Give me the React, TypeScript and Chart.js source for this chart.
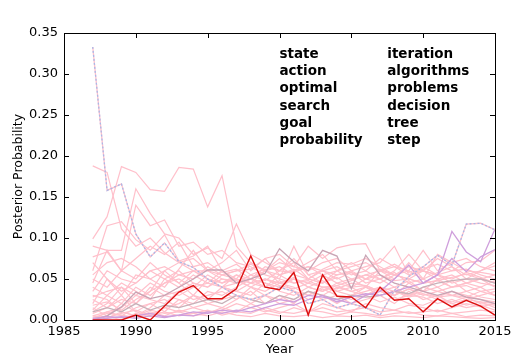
import React, { useEffect, useRef } from "react";
import { Chart, registerables } from "chart.js";

Chart.register(...registerables);

const years = [1987,1988,1989,1990,1991,1992,1993,1994,1995,1996,1997,1998,1999,2000,2001,2002,2003,2004,2005,2006,2007,2008,2009,2010,2011,2012,2013,2014,2015];

const xTicks = [1985, 1990, 1995, 2000, 2005, 2010, 2015];
const yTicks = [0, 0.05, 0.1, 0.15, 0.2, 0.25, 0.3, 0.35];

const wordsLeft = ["state", "action", "optimal", "search", "goal", "probability"];
const wordsRight = ["iteration", "algorithms", "problems", "decision", "tree", "step"];

const redTopic = [0,0,0,.006,0,.017,.034,.042,.026,.026,.038,.078,.040,.037,.058,.006,.055,.029,.028,.015,.040,.024,.026,.010,.026,.016,.024,.017,.006];
const blueTopic = [.333,.158,.166,.105,.077,.094,.071,.064,.050,.040,.030,.025,.030,.040,.035,.020,.025,.015,.020,.015,.006,.036,.053,.065,.079,.067,.117,.118,.110];
const purpleA = [.002,.004,.003,.005,.008,.004,.006,.010,.008,.012,.010,.015,.020,.025,.022,.030,.028,.025,.020,.030,.035,.050,.067,.045,.055,.108,.083,.071,.111];
const purpleB = [0,.002,.004,.002,.005,.003,.006,.005,.010,.008,.012,.010,.015,.020,.018,.025,.030,.022,.028,.032,.030,.035,.040,.045,.055,.075,.059,.077,.086];
const mauveA = [0,.005,.016,.034,.026,.030,.040,.050,.061,.061,.045,.050,.057,.087,.071,.060,.085,.078,.038,.079,.055,.045,.040,.035,.030,.035,.028,.025,.020];
const mauveB = [.010,.015,.010,.020,.012,.018,.015,.020,.025,.020,.030,.025,.020,.030,.025,.035,.030,.025,.030,.028,.030,.035,.032,.040,.045,.048,.050,.050,.045];

const pinkSeries = [
  [.188,.180,.111,.090,.100,.082,.070,.075,.060,.055,.050,.045,.040,.048,.035,.030,.038,.030,.025,.030,.022,.028,.020,.018,.025,.020,.015,.018,.012],
  [.099,.126,.187,.180,.159,.157,.186,.184,.138,.176,.090,.070,.060,.055,.062,.050,.045,.052,.040,.042,.035,.040,.030,.035,.028,.030,.025,.022,.020],
  [.090,.085,.085,.160,.130,.105,.100,.080,.088,.075,.117,.080,.070,.060,.075,.055,.060,.050,.058,.045,.050,.040,.048,.035,.040,.030,.035,.028,.025],
  [.077,.083,.060,.140,.115,.122,.090,.095,.080,.085,.070,.065,.055,.050,.045,.048,.040,.042,.035,.040,.030,.035,.028,.032,.025,.022,.028,.020,.018],
  [.060,.115,.120,.098,.085,.104,.072,.078,.090,.060,.068,.055,.062,.045,.050,.040,.048,.035,.040,.030,.038,.025,.030,.028,.020,.025,.018,.022,.015],
  [.045,.085,.060,.075,.090,.080,.095,.065,.070,.058,.062,.050,.060,.070,.065,.090,.075,.088,.092,.093,.060,.055,.050,.045,.048,.040,.042,.035,.038],
  [.020,.050,.030,.055,.050,.040,.062,.085,.060,.070,.085,.060,.075,.080,.065,.060,.070,.075,.060,.065,.070,.090,.055,.060,.050,.055,.045,.050,.040],
  [.010,.020,.040,.020,.035,.060,.045,.030,.050,.040,.055,.045,.060,.050,.090,.055,.045,.060,.050,.055,.050,.060,.080,.060,.075,.065,.055,.060,.070],
  [.005,.010,.015,.030,.025,.020,.035,.045,.040,.055,.060,.068,.060,.075,.060,.070,.080,.060,.070,.060,.075,.065,.060,.085,.060,.070,.060,.058,.055],
  [.030,.025,.010,.005,.015,.030,.025,.020,.035,.030,.040,.050,.045,.040,.050,.045,.055,.045,.050,.040,.060,.050,.070,.050,.080,.070,.075,.065,.060],
  [.015,.005,.020,.010,.005,.015,.020,.030,.025,.040,.035,.030,.045,.035,.030,.040,.035,.045,.040,.050,.045,.055,.050,.060,.055,.060,.070,.072,.085],
  [0,.010,.005,.015,.020,.010,.025,.015,.020,.025,.030,.020,.030,.025,.035,.025,.030,.020,.030,.035,.040,.030,.045,.035,.050,.040,.045,.050,.055],
  [.025,.015,.030,.010,.020,.025,.015,.030,.020,.015,.025,.035,.020,.030,.020,.035,.025,.030,.020,.025,.030,.020,.035,.025,.030,.020,.025,.030,.035],
  [.040,.030,.020,.040,.030,.045,.050,.040,.055,.045,.050,.040,.035,.045,.040,.030,.040,.035,.030,.040,.035,.030,.038,.030,.035,.040,.045,.040,.048],
  [.005,.002,.010,.005,.012,.008,.010,.015,.010,.012,.020,.015,.010,.015,.020,.010,.015,.010,.012,.015,.010,.012,.008,.010,.012,.008,.010,.012,.010],
  [.002,.005,0,.008,.004,.010,.005,.008,.012,.006,.010,.008,.015,.010,.008,.012,.010,.006,.010,.008,.005,.008,.010,.006,.005,.008,.004,.006,.005],
  [.050,.040,.060,.050,.070,.055,.045,.060,.050,.040,.045,.055,.048,.060,.070,.050,.060,.065,.055,.060,.050,.058,.045,.050,.040,.048,.035,.040,.030],
  [.012,.030,.045,.035,.025,.050,.040,.055,.045,.060,.050,.070,.060,.065,.055,.050,.045,.055,.060,.050,.062,.055,.065,.060,.055,.050,.058,.052,.045],
  [.035,.060,.050,.045,.060,.065,.055,.050,.065,.055,.060,.062,.075,.055,.060,.065,.055,.060,.065,.070,.060,.065,.055,.062,.068,.060,.062,.055,.050],
  [.008,.015,.025,.020,.040,.030,.035,.025,.030,.035,.025,.040,.030,.020,.025,.035,.030,.040,.035,.030,.040,.035,.030,.040,.035,.030,.028,.035,.030],
  [0,.003,.008,.012,.006,.015,.010,.005,.008,.015,.010,.020,.012,.008,.015,.010,.020,.015,.010,.020,.015,.012,.018,.015,.010,.015,.020,.016,.020],
  [.070,.050,.035,.045,.060,.050,.060,.045,.040,.050,.045,.050,.040,.055,.045,.050,.062,.070,.068,.075,.065,.055,.060,.050,.058,.065,.050,.045,.042],
  [.018,.022,.012,.025,.035,.045,.055,.060,.050,.045,.055,.050,.065,.060,.058,.065,.060,.055,.058,.050,.055,.048,.050,.045,.048,.052,.056,.050,.046],
  [.003,.008,.006,.003,.010,.005,.012,.008,.005,.010,.006,.004,.008,.005,.004,.006,.003,.005,.004,.006,.003,.005,.004,.003,.005,.004,.003,.002,.003],
  [.028,.035,.040,.030,.045,.035,.030,.040,.045,.040,.035,.045,.050,.042,.038,.045,.040,.038,.045,.042,.035,.030,.038,.032,.028,.035,.030,.025,.022],
  [.055,.070,.075,.065,.050,.060,.070,.060,.060,.050,.048,.040,.050,.045,.052,.040,.035,.042,.048,.055,.060,.068,.058,.065,.055,.045,.050,.060,.066],
];

const FONT = "'DejaVu Sans', sans-serif";

const toPoints = (vals: number[]) => years.map((yr, i) => ({ x: yr, y: vals[i] }));

const framePlugin = {
  id: "frameTicks",
  afterDraw(chart: any) {
    const { ctx, chartArea, scales } = chart;
    const { left, right, top, bottom } = chartArea;
    const xs = scales.x;
    const ys = scales.y;
    ctx.save();
    ctx.strokeStyle = "#000";
    ctx.lineWidth = 1;
    ctx.strokeRect(Math.round(left) + 0.5, Math.round(top) + 0.5, Math.round(right - left), Math.round(bottom - top));
    ctx.beginPath();
    xTicks.forEach((v) => {
      const px = Math.round(xs.getPixelForValue(v)) + 0.5;
      ctx.moveTo(px, bottom); ctx.lineTo(px, bottom - 5);
      ctx.moveTo(px, top); ctx.lineTo(px, top + 5);
    });
    yTicks.forEach((v) => {
      const py = Math.round(ys.getPixelForValue(v)) + 0.5;
      ctx.moveTo(left, py); ctx.lineTo(left + 5, py);
      ctx.moveTo(right, py); ctx.lineTo(right - 5, py);
    });
    ctx.stroke();
    ctx.fillStyle = "#000";
    ctx.font = `bold 13.5px ${FONT}`;
    ctx.textBaseline = "alphabetic";
    ctx.textAlign = "left";
    const x1 = xs.getPixelForValue(2000);
    const x2 = xs.getPixelForValue(2007.5);
    const y0 = ys.getPixelForValue(0.3195);
    wordsLeft.forEach((w, i) => ctx.fillText(w, x1, y0 + i * 17.2));
    wordsRight.forEach((w, i) => ctx.fillText(w, x2, y0 + i * 17.2));
    ctx.restore();
  },
};

export default function App() {
  const ref = useRef<HTMLCanvasElement>(null);
  useEffect(() => {
    document.body.style.margin = "0";
    const datasets: any[] = [];
    datasets.push({ data: toPoints(redTopic), borderColor: "#dd1111", borderWidth: 1.4, order: 0 });
    datasets.push({ data: toPoints(blueTopic), borderColor: "#a9b8e8", borderWidth: 1.3, borderDash: [2, 2], order: 1 });
    datasets.push({ data: toPoints(blueTopic), borderColor: "#ffc0cb", borderWidth: 1.3, order: 2 });
    datasets.push({ data: toPoints(purpleA), borderColor: "#cf9fdc", borderWidth: 1.3, order: 3 });
    datasets.push({ data: toPoints(purpleB), borderColor: "#cf9fdc", borderWidth: 1.3, order: 3 });
    datasets.push({ data: toPoints(mauveA), borderColor: "#c8a4b4", borderWidth: 1.3, order: 4 });
    datasets.push({ data: toPoints(mauveB), borderColor: "#c8b0b8", borderWidth: 1.3, order: 4 });
    pinkSeries.forEach((s) => datasets.push({ data: toPoints(s), borderColor: "#ffc0cb", borderWidth: 1.2, order: 10 }));

    const chart = new Chart(ref.current!, {
      type: "line",
      data: { datasets },
      plugins: [framePlugin],
      options: {
        animation: false,
        responsive: false,
        devicePixelRatio: 1,
        layout: { padding: { top: 33, right: 17, left: 0, bottom: 0 } },
        elements: { point: { radius: 0 }, line: { tension: 0 } },
        plugins: { legend: { display: false }, tooltip: { enabled: false } },
        scales: {
          x: {
            type: "linear",
            min: 1985,
            max: 2015,
            afterFit: (s: any) => { s.height = 41; s.paddingLeft = 0; s.paddingRight = 0; },
            afterBuildTicks: (s: any) => { s.ticks = xTicks.map((v) => ({ value: v })); },
            grid: { display: false, drawTicks: false },
            border: { display: false },
            ticks: { color: "#000", font: { family: FONT, size: 13 }, padding: 4, maxRotation: 0, callback: (v: any) => String(v) },
            title: { display: true, text: "Year", color: "#000", font: { family: FONT, size: 13 }, padding: { top: 0, bottom: 4 } },
          },
          y: {
            min: 0,
            max: 0.35,
            afterFit: (s: any) => { s.width = 64; s.paddingTop = 0; s.paddingBottom = 0; },
            afterBuildTicks: (s: any) => { s.ticks = yTicks.map((v) => ({ value: v })); },
            grid: { display: false, drawTicks: false },
            border: { display: false },
            ticks: { color: "#000", font: { family: FONT, size: 13 }, padding: 6, callback: (v: any) => Number(v).toFixed(2) },
            title: { display: true, text: "Posterior Probability", color: "#000", font: { family: FONT, size: 12.5 }, padding: { top: 11, bottom: 0 } },
          },
        },
      },
    });
    return () => chart.destroy();
  }, []);
  return (
    <div style={{ position: "fixed", left: 0, top: 0, width: 512, height: 361, background: "#fff" }}>
      <canvas ref={ref} width={512} height={361} style={{ width: 512, height: 361 }} />
    </div>
  );
}
